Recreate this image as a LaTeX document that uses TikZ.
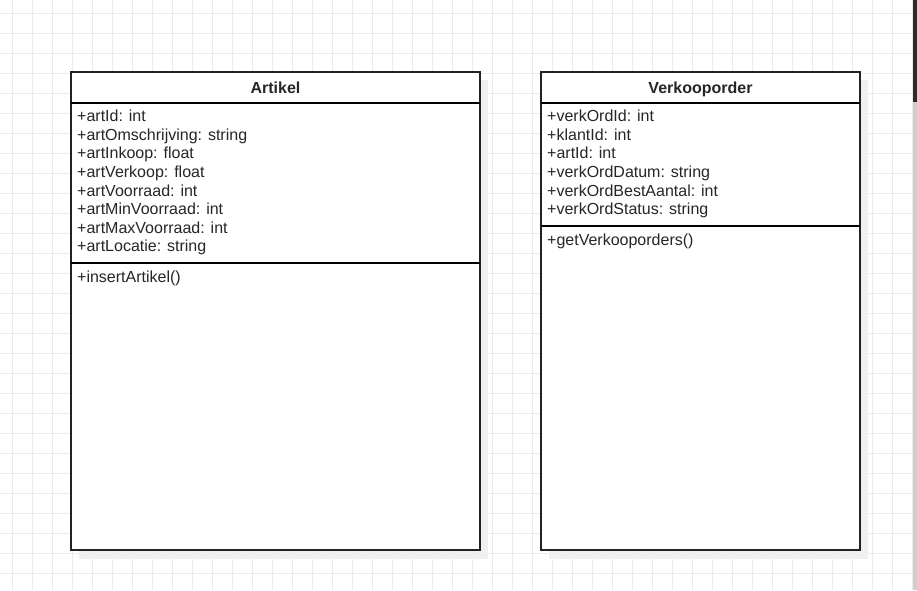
\documentclass[tikz,border=0pt]{standalone}
\usepackage{fontspec}
\setmainfont{Liberation Sans}
\definecolor{gridc}{HTML}{EBEBEB}
\definecolor{shadowc}{HTML}{F0F0F0}
\definecolor{borderc}{HTML}{222222}
\definecolor{textc}{HTML}{262626}
\definecolor{scrolldark}{HTML}{2B2B2B}
\definecolor{scrolllight}{HTML}{CFCFCF}
\tikzset{
  umlbox/.style={draw=borderc, line width=1.3pt, fill=white},
  umlshadow/.style={fill=shadowc, draw=none},
  divider/.style={draw=black, line width=1.2pt},
  title/.style={font=\fontsize{16}{18}\selectfont\bfseries, text=textc, anchor=base, inner sep=0pt},
  attr/.style={font=\fontsize{16}{18}\selectfont, text=textc, anchor=base west, inner sep=0pt},
}
\begin{document}
\begin{tikzpicture}[x=1pt,y=-1pt]
\useasboundingbox (0,0) rectangle (917,590);
\fill[white] (0,0) rectangle (917,590);
% grid
\foreach \i in {0,...,45} {\draw[gridc, line width=0.9pt] ({12+20*\i},0) -- ({12+20*\i},590);}
\foreach \j in {0,...,29} {\draw[gridc, line width=0.9pt] (0,{13+20*\j}) -- (917,{13+20*\j});}
% scrollbar
\fill[scrolllight] (912.5,0) rectangle (917,590);
\fill[scrolldark] (913,0) rectangle (917,102);

% Artikel class
\fill[umlshadow] (79,80) rectangle (488,559);
\draw[umlbox] (71,72) rectangle (480,550);
\draw[divider] (71,103) -- (480,103);
\draw[divider] (71,263) -- (480,263);
\node[title] (artT) at (275.5,93.3) {Artikel};
\node[attr] (a1) at (77,121.7) {+artId: int};
\node[attr] (a2) at (77,140.3) {+artOmschrijving: string};
\node[attr] (a3) at (77,158.9) {+artInkoop: float};
\node[attr] (a4) at (77,177.5) {+artVerkoop: float};
\node[attr] (a5) at (77,196.1) {+artVoorraad: int};
\node[attr] (a6) at (77,214.7) {+artMinVoorraad: int};
\node[attr] (a7) at (77,233.3) {+artMaxVoorraad: int};
\node[attr] (a8) at (77,251.9) {+artLocatie: string};
\node[attr] (am1) at (77,282.5) {+insertArtikel()};

% Verkooporder class
\fill[umlshadow] (549,80) rectangle (868,559);
\draw[umlbox] (541,72) rectangle (860,550);
\draw[divider] (541,103) -- (860,103);
\draw[divider] (541,226) -- (860,226);
\node[title] (vT) at (700.5,93.3) {Verkooporder};
\node[attr] (v1) at (547,121.7) {+verkOrdId: int};
\node[attr] (v2) at (547,140.3) {+klantId: int};
\node[attr] (v3) at (547,158.9) {+artId: int};
\node[attr] (v4) at (547,177.5) {+verkOrdDatum: string};
\node[attr] (v5) at (547,196.1) {+verkOrdBestAantal: int};
\node[attr] (v6) at (547,214.7) {+verkOrdStatus: string};
\node[attr] (vm1) at (547,245.5) {+getVerkooporders()};
\end{tikzpicture}
\end{document}
